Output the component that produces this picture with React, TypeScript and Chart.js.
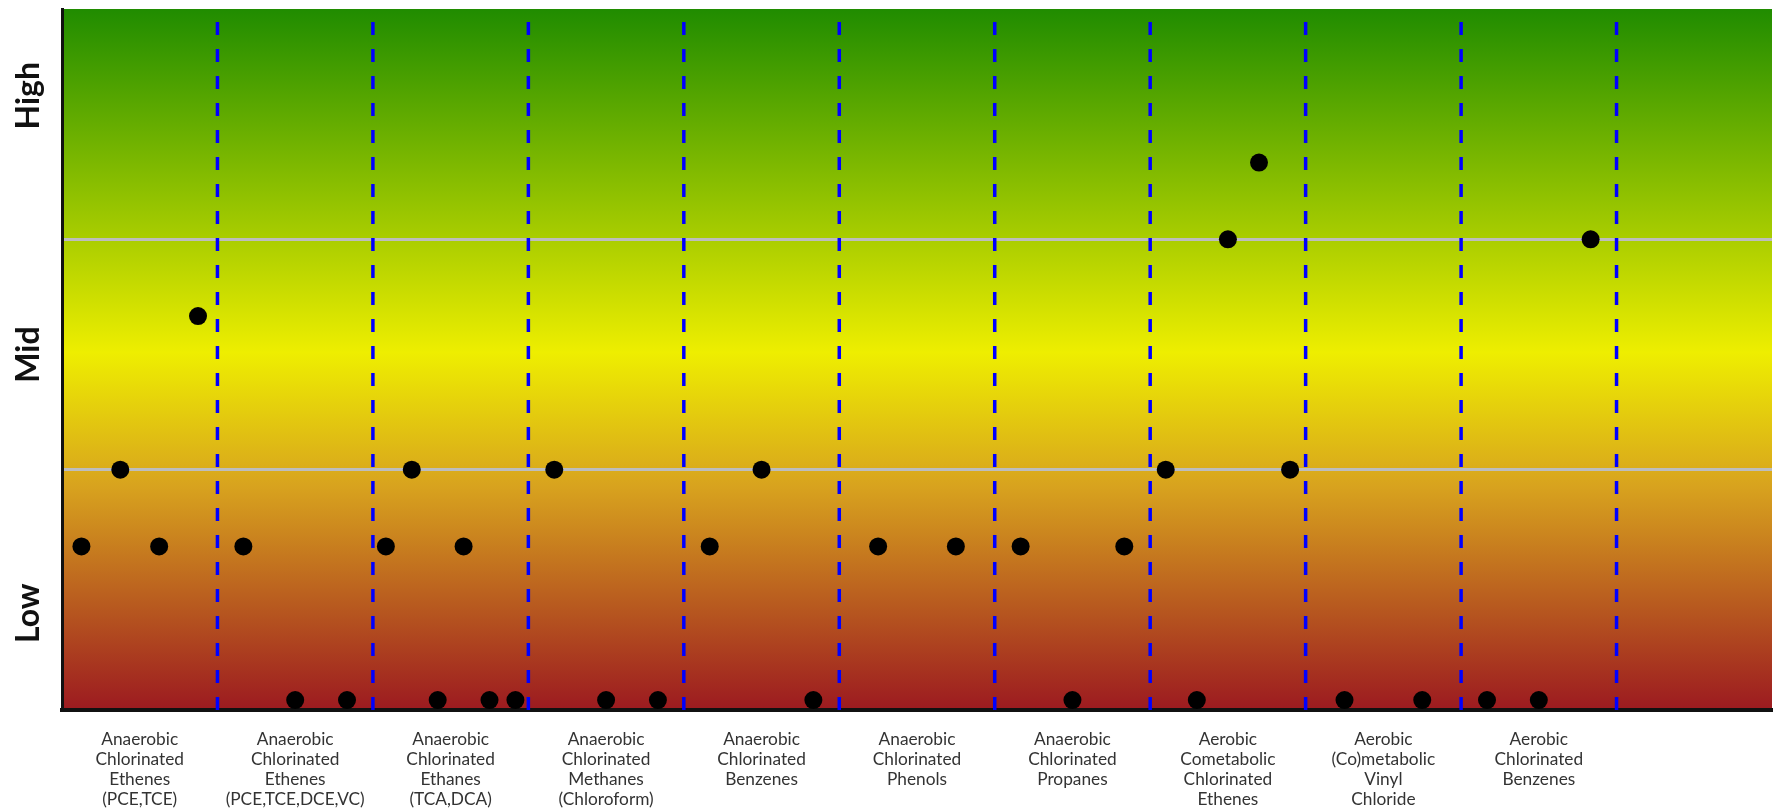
import React, { useEffect, useRef } from "react";
import { Chart, registerables } from "chart.js";

Chart.register(...registerables);

// ---- data ----
const categoryLabels: string[][] = [
  ["Anaerobic", "Chlorinated", "Ethenes", "(PCE,TCE)"],
  ["Anaerobic", "Chlorinated", "Ethenes", "(PCE,TCE,DCE,VC)"],
  ["Anaerobic", "Chlorinated", "Ethanes", "(TCA,DCA)"],
  ["Anaerobic", "Chlorinated", "Methanes", "(Chloroform)"],
  ["Anaerobic", "Chlorinated", "Benzenes"],
  ["Anaerobic", "Chlorinated", "Phenols"],
  ["Anaerobic", "Chlorinated", "Propanes"],
  ["Aerobic", "Cometabolic", "Chlorinated", "Ethenes"],
  ["Aerobic", "(Co)metabolic", "Vinyl", "Chloride"],
  ["Aerobic", "Chlorinated", "Benzenes"],
];

const anaerobicEthenesPceTce = [2, 3, 2, 5];
const anaerobicEthenesAll = [2, 0, 0];
const anaerobicEthanes = [2, 3, 0, 2, 0, 0];
const anaerobicMethanes = [3, 0, 0];
const anaerobicBenzenes = [2, 3, 0];
const anaerobicPhenols = [2, 2];
const anaerobicPropanes = [2, 0, 2];
const aerobicCometabolicEthenes = [3, 0, 6, 7, 3];
const aerobicVinylChloride = [0, 0];
const aerobicBenzenes = [0, 0, 6];

const ratingsByCategory = [
  anaerobicEthenesPceTce,
  anaerobicEthenesAll,
  anaerobicEthanes,
  anaerobicMethanes,
  anaerobicBenzenes,
  anaerobicPhenols,
  anaerobicPropanes,
  aerobicCometabolicEthenes,
  aerobicVinylChloride,
  aerobicBenzenes,
];

const bandLabels = ["Low", "Mid", "High"];
const bandGridValues = [3, 6];
const slotCount = 11;
const yMin = -0.13;
const yMax = 9;

export default function App() {
  const canvasRef = useRef<HTMLCanvasElement | null>(null);

  useEffect(() => {
    if (!canvasRef.current) return;

    const points: { x: number; y: number }[] = [];
    ratingsByCategory.forEach((vals, ci) => {
      const n = vals.length;
      vals.forEach((v, j) => {
        points.push({ x: ci + (2 * j + 1) / (2 * n), y: v });
      });
    });

    const dividerSets = [];
    for (let k = 1; k <= categoryLabels.length; k++) {
      dividerSets.push({
        type: "scatter" as const,
        data: [
          { x: k, y: yMin },
          { x: k, y: yMax },
        ],
        showLine: true,
        borderColor: "#0000ff",
        borderWidth: 3.5,
        borderDash: [13, 14],
        pointRadius: 0,
        pointHoverRadius: 0,
        fill: false,
      });
    }

    const gradientPlugin = {
      id: "bgGradient",
      beforeDraw(chart: any) {
        const { ctx, chartArea } = chart;
        if (!chartArea) return;
        const g = ctx.createLinearGradient(0, chartArea.top, 0, chartArea.bottom);
        g.addColorStop(0, "#208c00");
        g.addColorStop(0.49, "#eeee00");
        g.addColorStop(0.68, "#d8a31e");
        g.addColorStop(1, "#9c1a20");
        ctx.save();
        ctx.fillStyle = g;
        ctx.fillRect(chartArea.left, chartArea.top, chartArea.right - chartArea.left, chartArea.bottom - chartArea.top);
        ctx.restore();
      },
    };

    const bandLabelPlugin = {
      id: "bandLabels",
      afterDraw(chart: any) {
        const { ctx } = chart;
        const yScale = chart.scales.y;
        const centers = [1.13, 4.5, 7.87];
        ctx.save();
        ctx.font = "bold 32px Lato";
        ctx.fillStyle = "#111";
        ctx.textAlign = "center";
        ctx.textBaseline = "middle";
        bandLabels.forEach((t, i) => {
          const py = yScale.getPixelForValue(centers[i]);
          ctx.save();
          ctx.translate(29, py);
          ctx.rotate(-Math.PI / 2);
          ctx.fillText(t, 0, 0);
          ctx.restore();
        });
        ctx.restore();
      },
    };

    const chart = new Chart(canvasRef.current, {
      type: "scatter",
      data: {
        datasets: [
          {
            data: points,
            backgroundColor: "#000",
            borderColor: "#000",
            borderWidth: 0,
            pointRadius: 9,
            pointHoverRadius: 9,
          },
          ...dividerSets,
        ] as any,
      },
      options: {
        animation: false,
        responsive: true,
        maintainAspectRatio: false,
        layout: { padding: { top: 8, right: 2, left: 0, bottom: 0 } },
        plugins: { legend: { display: false }, tooltip: { enabled: false } },
        scales: {
          x: {
            type: "linear",
            min: 0,
            max: slotCount,
            afterBuildTicks(scale: any) {
              scale.ticks = categoryLabels.map((_, i) => ({ value: i + 0.5 }));
            },
            afterFit(scale: any) {
              scale.height = 101;
              scale.paddingRight = 0;
              scale.paddingLeft = 0;
            },
            grid: { display: false, drawTicks: false },
            border: { display: true, color: "#111", width: 4 },
            ticks: {
              autoSkip: false,
              maxRotation: 0,
              minRotation: 0,
              padding: 19,
              color: "#333",
              font: { family: "Lato", size: 17.3, lineHeight: 20 / 17.3 },
              callback: (_v: any, i: number) => categoryLabels[i],
            },
          },
          y: {
            type: "linear",
            min: yMin,
            max: yMax,
            afterBuildTicks(scale: any) {
              scale.ticks = bandGridValues.map((v) => ({ value: v }));
            },
            afterFit(scale: any) {
              scale.width = 62;
            },
            grid: { display: true, color: "#bdbdbd", lineWidth: 3, drawTicks: false },
            border: { display: true, color: "#111", width: 3 },
            ticks: { display: false },
          },
        },
      },
      plugins: [gradientPlugin, bandLabelPlugin],
    });

    return () => chart.destroy();
  }, []);

  return (
    <div style={{ position: "absolute", left: 0, top: 0, width: 1781, height: 811, background: "#fff" }}>
      <canvas ref={canvasRef} />
    </div>
  );
}
